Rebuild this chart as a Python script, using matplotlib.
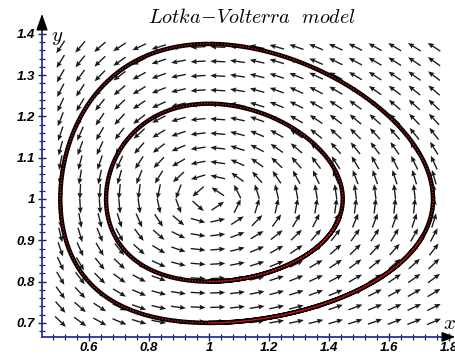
import numpy as np
import matplotlib.pyplot as plt
from matplotlib.ticker import FixedLocator, FixedFormatter

plt.rcParams['mathtext.fontset'] = 'cm'

# Lotka-Volterra model: x' = a*x*(1 - y), y' = c*y*(x - 1)
prey_rate = 1.0
pred_rate = 0.3
# initial conditions of the two drawn trajectories
start_x = [1.0, 1.0]
start_y = [0.70, 0.80]

# direction field grid (20 x 20)
grid_x = np.linspace(0.505, 1.75, 20)
grid_y = np.linspace(0.703, 1.368, 20)

x_ticks = [0.6, 0.8, 1.0, 1.2, 1.4, 1.6, 1.8]
x_labels = ['0.6', '0.8', '1', '1.2', '1.4', '1.6', '1.8']
y_ticks = [0.7, 0.8, 0.9, 1.0, 1.1, 1.2, 1.3, 1.4]
y_labels = ['0.7', '0.8', '0.9', '1', '1.1', '1.2', '1.3', '1.4']


def field(x, y):
    return prey_rate * x * (1 - y), pred_rate * y * (x - 1)


def trajectory(x0, y0, t_end=14.0, dt=0.01):
    pts = [(x0, y0)]
    x, y = x0, y0
    for _ in range(int(t_end / dt)):
        k1 = field(x, y)
        k2 = field(x + dt / 2 * k1[0], y + dt / 2 * k1[1])
        k3 = field(x + dt / 2 * k2[0], y + dt / 2 * k2[1])
        k4 = field(x + dt * k3[0], y + dt * k3[1])
        x += dt / 6 * (k1[0] + 2 * k2[0] + 2 * k3[0] + k4[0])
        y += dt / 6 * (k1[1] + 2 * k2[1] + 2 * k3[1] + k4[1])
        pts.append((x, y))
    return np.array(pts)


fig = plt.figure(figsize=(4.56, 3.54), dpi=100)
ax = fig.add_axes([0, 0, 1, 1])
ax.set_xlim(0.3033, 1.8233)
ax.set_ylim(0.6247, 1.4818)

x0_axis = 0.4433
y0_axis = 0.666

# direction field, arrows of fixed screen length
X, Y = np.meshgrid(grid_x, grid_y)
U, V = field(X, Y)
su, sv = U * 300, V * 413
norm = np.hypot(su, sv)
ax.quiver(X, Y, su / norm, sv / norm, angles='uv', scale_units='inches',
          scale=1 / 0.15, pivot='middle', width=0.003, headwidth=3.8,
          headlength=4.5, headaxislength=4, color='#1a1a1a', zorder=2)

for sx, sy in zip(start_x, start_y):
    tr = trajectory(sx, sy)
    ax.plot(tr[:, 0], tr[:, 1], color='black', lw=3.2, zorder=3,
            solid_capstyle='round')
    ax.plot(tr[:, 0], tr[:, 1], color='#dd1111', lw=1.0,
            linestyle=(0, (1, 1.2)), zorder=4)

# axes crossing at bottom-left
for s in ['top', 'right']:
    ax.spines[s].set_visible(False)
ax.spines['left'].set_position(('data', x0_axis))
ax.spines['bottom'].set_position(('data', y0_axis))
ax.spines['left'].set_bounds(y0_axis, 1.43)
ax.spines['bottom'].set_bounds(x0_axis, 1.80)
for s in ['left', 'bottom']:
    ax.spines[s].set_color('#24349e')
    ax.spines[s].set_linewidth(1.3)

ax.xaxis.set_major_locator(FixedLocator(x_ticks))
ax.xaxis.set_major_formatter(FixedFormatter(x_labels))
ax.yaxis.set_major_locator(FixedLocator(y_ticks))
ax.yaxis.set_major_formatter(FixedFormatter(y_labels))
ax.xaxis.set_minor_locator(FixedLocator(np.arange(0.48, 1.79, 0.04)))
ax.yaxis.set_minor_locator(FixedLocator(np.arange(0.68, 1.43, 0.02)))
ax.tick_params(which='major', direction='inout', length=6, width=1,
               color='#222244')
ax.tick_params(which='minor', direction='inout', length=4, width=0.9,
               color='#222244')
ax.tick_params(axis='x', which='major', pad=0.5)
ax.tick_params(axis='y', which='major', pad=2)
for lab in ax.get_xticklabels() + ax.get_yticklabels():
    lab.set_fontfamily('Liberation Sans')
    lab.set_fontweight('bold')
    lab.set_fontstyle('italic')
    lab.set_fontsize(9.5)

# axis arrowheads
ax.annotate('', xy=(1.83, y0_axis), xytext=(1.795, y0_axis),
            arrowprops=dict(arrowstyle='-|>,head_length=0.8,head_width=0.3',
                            color='black', lw=1), annotation_clip=False)
ax.annotate('', xy=(x0_axis, 1.455), xytext=(x0_axis, 1.41),
            arrowprops=dict(arrowstyle='-|>,head_length=1.0,head_width=0.35',
                            color='black', lw=1), annotation_clip=False)

ax.text(0.493, 1.392, r'$y$', fontsize=15, ha='center', va='center')
ax.text(1.80, 0.700, r'$x$', fontsize=15, ha='center', va='center')
ax.text(1.143, 1.44, r'$Lotka\!-\!Volterra\ \ model$', fontsize=14.5,
        ha='center', va='center')

fig.savefig('out.png', dpi=100)
